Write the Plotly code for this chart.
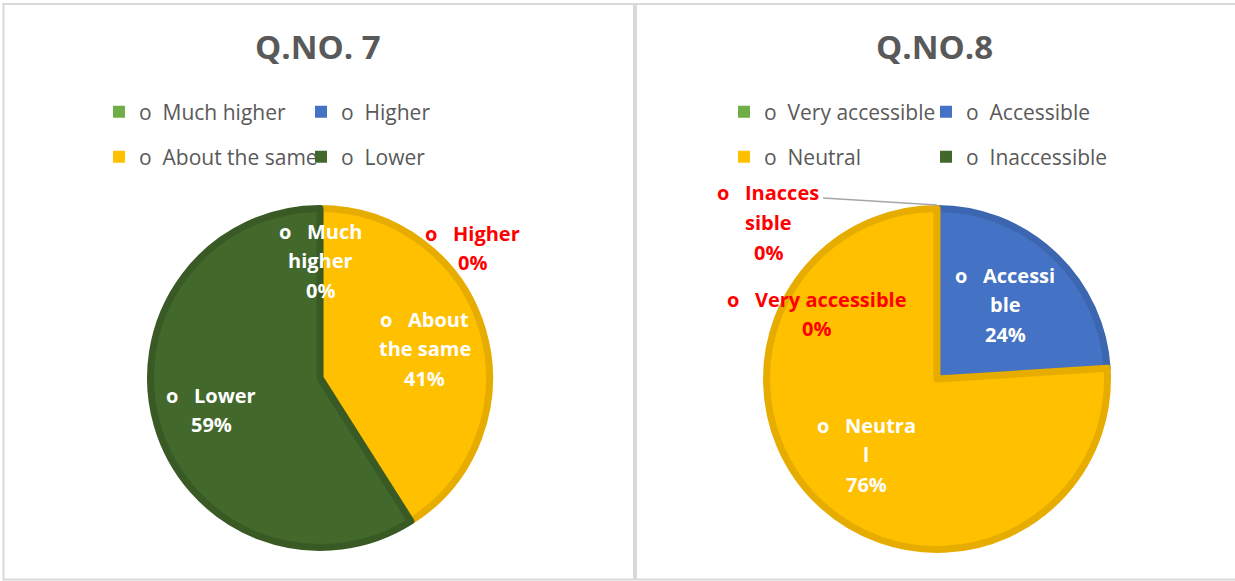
import math
import plotly.graph_objects as go

# ---------------- data ----------------
q7_title = "Q.NO. 7"
q7_labels = ["Much higher", "Higher", "About the same", "Lower"]
q7_values = [0, 0, 41, 59]
q7_label_lines = [["Much", "higher"], ["Higher"], ["About", "the same"], ["Lower"]]

q8_title = "Q.NO.8"
q8_labels = ["Very accessible", "Accessible", "Neutral", "Inaccessible"]
q8_values = [0, 24, 76, 0]
q8_label_lines = [["Very accessible"], ["Accessi", "ble"], ["Neutra", "l"], ["Inacces", "sible"]]

# ---------------- styles ----------------
W, H = 1235, 581
fill_colors = ["#70AD47", "#4472C4", "#FFC000", "#43682B"]
edge_colors = ["#5F9638", "#3D66B0", "#E6AD00", "#395A24"]
BULLET = "o\u00a0\u00a0"
LBL_BULLET = "o\u00a0\u00a0\u00a0"
FONT = "Open Sans"
GRAY = "#595959"


def px(x):
    return x / W


def py(y):
    return 1 - y / H


STROKE = 7
panels = [
    dict(title=q7_title, labels=q7_labels, values=q7_values, lines=q7_label_lines,
         cx=320, cy=378, r=173, title_x=318, legend_x=[99, 301],
         label_pos=[(320, 231), (472, 233), (425, 319), (211, 395)],
         label_col=["white", "#FF0000", "white", "white"], leader=None),
    dict(title=q8_title, labels=q8_labels, values=q8_values, lines=q8_label_lines,
         cx=937, cy=379, r=174, title_x=934, legend_x=[724, 925],
         label_pos=[(816, 299), (1005, 275), (866, 425), (768, 193)],
         label_col=["#FF0000", "white", "white", "#FF0000"], leader=(3, 823, 198)),
]

fig = go.Figure()
annotations = []
shapes = []
legend_defs = {}
leg_idx = 0

for p in panels:
    r0 = p["r"] - STROKE / 2
    total = sum(p["values"])
    fig.add_trace(go.Pie(
        labels=p["labels"], values=p["values"], sort=False, direction="clockwise",
        rotation=0, textinfo="none", showlegend=False,
        hovertemplate="%{label}: %{percent}<extra></extra>",
        marker=dict(colors=fill_colors,
                    line=dict(color=edge_colors,
                              width=[STROKE if v > 0 else 0 for v in p["values"]])),
        domain=dict(x=[px(p["cx"] - r0), px(p["cx"] + r0)],
                    y=[py(p["cy"] + r0), py(p["cy"] - r0)]),
    ))
    # title
    annotations.append(dict(text=f"<b>{p['title']}</b>", x=px(p["title_x"]), y=py(47),
                            xref="paper", yref="paper", showarrow=False,
                            xanchor="center", yanchor="middle",
                            font=dict(family=FONT, size=33, color=GRAY)))
    # legends: two rows of two entries
    for row in range(2):
        leg_idx += 1
        name = "legend" if leg_idx == 1 else f"legend{leg_idx}"
        legend_defs[name] = dict(
            orientation="h", x=px(p["legend_x"][0]), xanchor="left",
            y=py(112 + 45 * row), yanchor="middle",
            entrywidth=157, entrywidthmode="pixels",
            bgcolor="rgba(0,0,0,0)", borderwidth=0,
            font=dict(family=FONT, size=21, color=GRAY),
            itemclick=False, itemdoubleclick=False,
        )
        for k in range(2):
            i = row * 2 + k
            fig.add_trace(go.Scatter(
                x=[None], y=[None], mode="markers", name=BULLET + p["labels"][i],
                marker=dict(symbol="square", size=12, color=fill_colors[i],
                            line=dict(width=0)),
                legend=name, showlegend=True, hoverinfo="skip",
            ))
    # data labels
    for i, lab in enumerate(p["labels"]):
        pct = f"{p['values'][i] / total:.0%}"
        lines = list(p["lines"][i])
        lines[0] = LBL_BULLET + lines[0]
        lines.append(pct)
        lx, ly = p["label_pos"][i]
        for j, t in enumerate(lines):
            annotations.append(dict(text=f"<b>{t}</b>", x=px(lx), y=py(ly + 29.5 * j),
                                    xref="paper", yref="paper", showarrow=False,
                                    xanchor="center", yanchor="middle",
                                    font=dict(family=FONT, size=20,
                                              color=p["label_col"][i])))
    # leader line for a zero slice, ending at the slice's angle on the rim
    if p["leader"] is not None:
        i, lx, ly = p["leader"]
        frac = (sum(p["values"][:i]) + p["values"][i] / 2) / total
        ang = 2 * math.pi * frac
        ex = p["cx"] + p["r"] * math.sin(ang)
        ey = p["cy"] - p["r"] * math.cos(ang)
        shapes.append(dict(type="line", xref="paper", yref="paper",
                           x0=px(lx), y0=py(ly), x1=px(ex), y1=py(ey),
                           line=dict(color="#A6A6A6", width=1.5)))

# panel borders
for x0, x1 in [(3.5, 634), (636, 1238)]:
    shapes.append(dict(type="rect", xref="paper", yref="paper",
                       x0=px(x0), x1=px(x1), y0=py(579.5), y1=py(4),
                       line=dict(color="#D9D9D9", width=2), fillcolor="rgba(0,0,0,0)",
                       layer="below"))

fig.update_layout(
    width=W, height=H, margin=dict(l=0, r=0, t=0, b=0),
    paper_bgcolor="white", plot_bgcolor="white",
    xaxis=dict(visible=False), yaxis=dict(visible=False),
    annotations=annotations, shapes=shapes,
    **legend_defs,
)

fig.write_html("out.html", config={"displayModeBar": False},
               post_script="document.body.style.margin='0';")
